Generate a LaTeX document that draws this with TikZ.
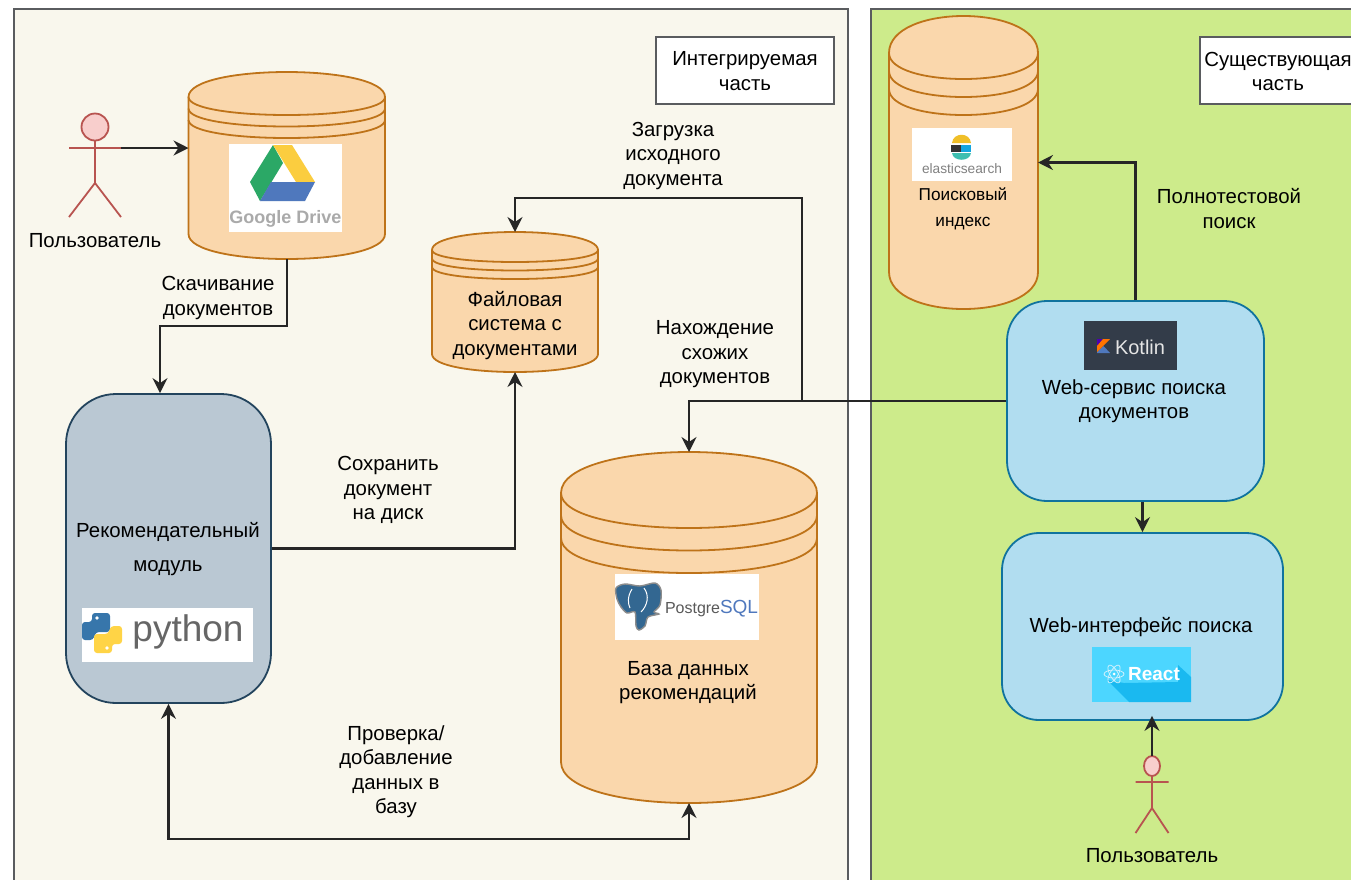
\documentclass[tikz,border=0pt]{standalone}
\usepackage{fontspec}
\setmainfont{Liberation Sans}
\usetikzlibrary{arrows.meta}

\definecolor{panel-cream}{RGB}{249, 247, 237}
\definecolor{panel-green}{RGB}{205, 235, 139}
\definecolor{panel-line}{RGB}{90, 92, 95}
\definecolor{store-fill}{RGB}{250, 215, 172}
\definecolor{store-line}{RGB}{190, 115, 25}
\definecolor{module-fill}{RGB}{186, 200, 211}
\definecolor{module-line}{RGB}{35, 68, 93}
\definecolor{service-fill}{RGB}{177, 221, 240}
\definecolor{service-line}{RGB}{16, 115, 158}
\definecolor{actor-fill}{RGB}{248, 206, 204}
\definecolor{actor-line}{RGB}{184, 84, 80}
\definecolor{logo-gray}{RGB}{170, 170, 170}
\definecolor{logo-green}{RGB}{43, 168, 102}
\definecolor{logo-yellow}{RGB}{251, 205, 63}
\definecolor{logo-blue}{RGB}{79, 120, 189}
\definecolor{py-blue}{RGB}{55, 118, 171}
\definecolor{py-yellow}{RGB}{255, 212, 70}
\definecolor{pg-blue}{RGB}{51, 103, 145}
\definecolor{es-cyan}{RGB}{20, 165, 222}
\definecolor{es-teal}{RGB}{62, 190, 176}
\definecolor{es-yellow}{RGB}{240, 191, 40}
\definecolor{kotlin-dark}{RGB}{51, 60, 73}
\definecolor{react-light}{RGB}{76, 214, 255}
\definecolor{react-dark}{RGB}{26, 185, 240}

\tikzset{
    panel/.style={draw=panel-line, line width=2.4pt},
    legend/.style={draw=panel-line, fill=white, line width=2.2pt, inner sep=0pt},
    store/.style={draw=store-line, fill=store-fill, line width=1.8pt},
    storeline/.style={draw=store-line, line width=1.8pt},
    box/.style={rounded corners=#1, line width=1.8pt, inner sep=0pt},
    txt/.style={align=center, inner sep=0pt, yshift=-0.3pt, font=\fontsize{20.4}{24.5}\selectfont},
    hit/.style={inner sep=0pt, outer sep=0pt},
    conn/.style={-{Stealth[length=15pt, width=15pt, inset=5pt]}, line width=2.1pt, black!85},
    actorline/.style={draw=actor-line, line width=1.8pt},
}

% name, left, right, top, side, down, gap, bottom
\newcommand{\datastore}[8]{
    \pgfmathsetmacro{\capup}{(#5-#4)*4/3}
    \pgfmathsetmacro{\capdn}{#6*4/3}
    \pgfmathsetmacro{\footy}{#8-(#5-#4)}
    \draw[store] (#2,#5) .. controls (#2,#5-\capup) and (#3,#5-\capup) .. (#3,#5) -- (#3,\footy)
        .. controls (#3,\footy+\capup) and (#2,\footy+\capup) .. (#2,\footy) -- cycle;
    \foreach \k in {0,1,2}
        \draw[storeline] (#2,#5+\k*#7) .. controls (#2,#5+\k*#7+\capdn) and (#3,#5+\k*#7+\capdn) .. (#3,#5+\k*#7);
    \node[hit, minimum width={#3-#2}, minimum height={#8-#4}] (#1) at ({(#2+#3)/2},{(#4+#8)/2}) {};
}

% name, x, head y, head rx, head ry, arm y, hip y, foot y, half width
\newcommand{\stickman}[9]{
    \draw[actorline] (#2,#3) -- (#2,#7) -- (#2-#9,#8) (#2,#7) -- (#2+#9,#8) (#2-#9,#6) -- (#2+#9,#6);
    \draw[actorline, fill=actor-fill] (#2,#3) ellipse [x radius=#4, y radius=#5];
    \node[hit, minimum width={2*#9}, minimum height={#8-#3+#5}] (#1) at ({#2},{(#3-#5+#8)/2}) {};
}

\begin{document}
\begin{tikzpicture}[x=1pt, y=-1pt]
    \useasboundingbox (0,0) rectangle (1351,879);

    \draw[panel, fill=panel-cream] (14,9) rectangle (848,900);
    \draw[panel, fill=panel-green] (871,9) rectangle (1380,900);

    \draw[legend] (656,37) rectangle (834,104);
    \draw[legend] (1200,37) rectangle (1380,104);
    \node[txt] (part-new) at (745,71) {Интегрируемая\\часть};
    \node[txt] (part-old) at (1278,71) {Существующая\\часть};

    % stores
    \datastore{drive}{188.5}{385}{72}{97}{18}{11.5}{259}
    \datastore{elastic}{889}{1038}{16}{53}{26}{18}{309}
    \datastore{files}{432}{598}{232}{250}{12}{8.5}{372}
    \datastore{pg}{561}{817}{452}{493}{35}{22.5}{803}

    % boxes
    \node[box=50pt, draw=module-line, fill=module-fill, minimum width=205pt, minimum height=309pt] (module) at (168.5,548.5) {};
    \node[box=40pt, draw=service-line, fill=service-fill, minimum width=257pt, minimum height=200pt] (service) at (1135.5,401) {};
    \node[box=37pt, draw=service-line, fill=service-fill, minimum width=281pt, minimum height=187pt] (interface) at (1142.5,626.5) {};

    % actors
    \stickman{user-a}{95}{127}{13.5}{13.5}{148}{183}{217}{26}
    \stickman{user-b}{1152}{766}{8}{10}{782}{808}{833}{16.5}
    \coordinate (user-a-hand) at (121,148);
    \node[txt] (user-a-label) at (95,240) {Пользователь};
    \node[txt] (user-b-label) at (1152,855) {Пользователь};

    % google drive logo
    \fill[white] (229,144) rectangle (342,232);
    \fill[logo-green] (273,145) -- (250,182) -- (260,201) -- (283,163) -- cycle;
    \fill[logo-yellow] (273,145) -- (292,145) -- (315,182) -- (296,182) -- cycle;
    \fill[logo-blue] (271,182) -- (315,182) -- (305,201) -- (260,201) -- cycle;
    \node[hit, text=logo-gray, font=\fontsize{18}{18}\selectfont\bfseries] (drive-text) at (285.5,219) {Google Drive};

    % elasticsearch logo
    \fill[white] (912,128) rectangle (1012,181);
    \fill[es-yellow] (952,143) .. controls (953,132) and (970,132) .. (971,143) -- cycle;
    \fill[black!80] (951,144.5) rectangle (961,151.5);
    \fill[es-cyan] (961,144.5) rectangle (971,151.5);
    \fill[es-teal] (952,153) .. controls (953,162) and (970,162) .. (971,153) -- cycle;
    \node[hit, text=black!50, font=\fontsize{13.7}{14}\selectfont] (elastic-text) at (962,169) {elasticsearch};
    \node[txt, font=\fontsize{17.2}{26}\selectfont] (elastic-label) at (963,209) {Поисковый\\индекс};

    % postgres logo
    \fill[white] (615,574) rectangle (759,640);
    \draw[black!45, fill=pg-blue, line width=1.4pt] plot[smooth cycle] coordinates {(616,588) (625,584) (640,586) (655,583) (661,590) (660,605) (654,612) (659,614) (648,617) (645,626) (639,630) (636,626) (635,612) (627,613) (621,607) (617,599)};
    \draw[white, line width=1pt] (632,589) .. controls (627,597) and (628,604) .. (630,608) (644,588) .. controls (650,596) and (647,606) .. (641,612);
    \node[hit, anchor=base west, text=black!65, font=\fontsize{16}{16}\selectfont] (pg-text) at (665,613) {Postgre};
    \node[hit, anchor=base west, text=logo-blue, font=\fontsize{19}{19}\selectfont] (pg-text-b) at (720,613) {SQL};
    \node[txt] (pg-label) at (688,682.5) {База данных\\рекомендаций};

    % python logo
    \fill[white] (82,608) rectangle (253,662);
    \fill[py-blue, rounded corners=3pt] (92,613) -- (110,613) -- (110,632) -- (96,632) -- (93,640) -- (82,640) -- (82,622) -- (92,622) -- cycle;
    \fill[py-yellow, rounded corners=3pt] (112,653) -- (94,653) -- (94,634) -- (108,634) -- (111,626) -- (122,626) -- (122,644) -- (112,644) -- cycle;
    \fill[white] (97,618) circle (1.8) (107,648) circle (1.8);
    \node[hit, text=black!60, font=\fontsize{37}{37}\selectfont] (python-text) at (188,632) {python};
    \node[txt] (module-label) at (168,548.5) {Рекомендательный\\[10pt]модуль};

    % kotlin logo
    \fill[kotlin-dark] (1084,321) rectangle (1177,370);
    \fill[logo-blue] (1097,352) -- (1103.5,346) -- (1110,353) -- (1097,353) -- cycle;
    \fill[violet!60!blue] (1097,339) -- (1103,339) -- (1097,346) -- cycle;
    \fill[orange!90!red] (1103,339) -- (1110,339) -- (1097,352) -- (1097,346) -- cycle;
    \node[hit, text=white!90!black, font=\fontsize{20}{20}\selectfont] (kotlin-text) at (1140,347) {Kotlin};
    \node[txt] (service-label) at (1134,401) {Web-сервис поиска\\документов};

    % react logo
    \fill[react-light] (1092,647) rectangle (1191,702);
    \fill[react-dark] (1107,680) -- (1129,702) -- (1191,702) -- (1191,677) -- (1178,665) -- (1178,682) -- (1124,683) -- cycle;
    \foreach \a in {0,60,120}
        \draw[white!85!cyan, line width=0.7pt, rotate around={\a:(1114,674)}] (1114,674) ellipse [x radius=10, y radius=4];
    \fill[white] (1114,674) circle (1.5);
    \node[hit, text=white, font=\fontsize{19}{19}\selectfont\bfseries] (react-text) at (1154,674) {React};
    \node[txt] (interface-label) at (1141,627) {Web-интерфейс поиска};

    % labels in the stores and beside the connectors
    \node[txt] (files-label) at (515,325) {Файловая\\система с\\документами};
    \node[txt] (label-fetch) at (218,297.5) {Скачивание\\документов};
    \node[txt] (label-save) at (388,490) {Сохранить\\документ\\на диск};
    \node[txt] (label-load) at (673,155.5) {Загрузка\\исходного\\документа};
    \node[txt] (label-similar) at (715,354) {Нахождение\\схожих\\документов};
    \node[txt] (label-check) at (396,771.5) {Проверка/\\добавление\\данных в\\базу};
    \node[txt] (label-search) at (1229,208) {Полнотестовой\\поиск};

    % connectors
    \coordinate (branch) at (802,401);
    \coordinate (turn) at (515,198);
    \draw[conn] (user-a-hand) -- (drive.west |- user-a-hand);
    \draw[conn] (drive.south) -- ++(0,67) -| ([xshift=-8.5pt]module.north);
    \draw[conn] (module.east) -| (files.south);
    \draw[conn] (service.west) -| (pg.north);
    \draw[conn] (branch) |- (turn) -- (files.north);
    \draw[conn, {Stealth[length=15pt, width=15pt, inset=5pt]}-{Stealth[length=15pt, width=15pt, inset=5pt]}] (module.south) -- ++(0,135) -| (pg.south);
    \draw[conn] (service.north) |- (elastic.east);
    \draw[conn] ([xshift=7pt]service.south) -- (interface.north);
    \draw[conn] ([xshift=9.5pt]interface.south |- user-b.north) -- ([xshift=9.5pt, yshift=5pt]interface.south);
\end{tikzpicture}
\end{document}
